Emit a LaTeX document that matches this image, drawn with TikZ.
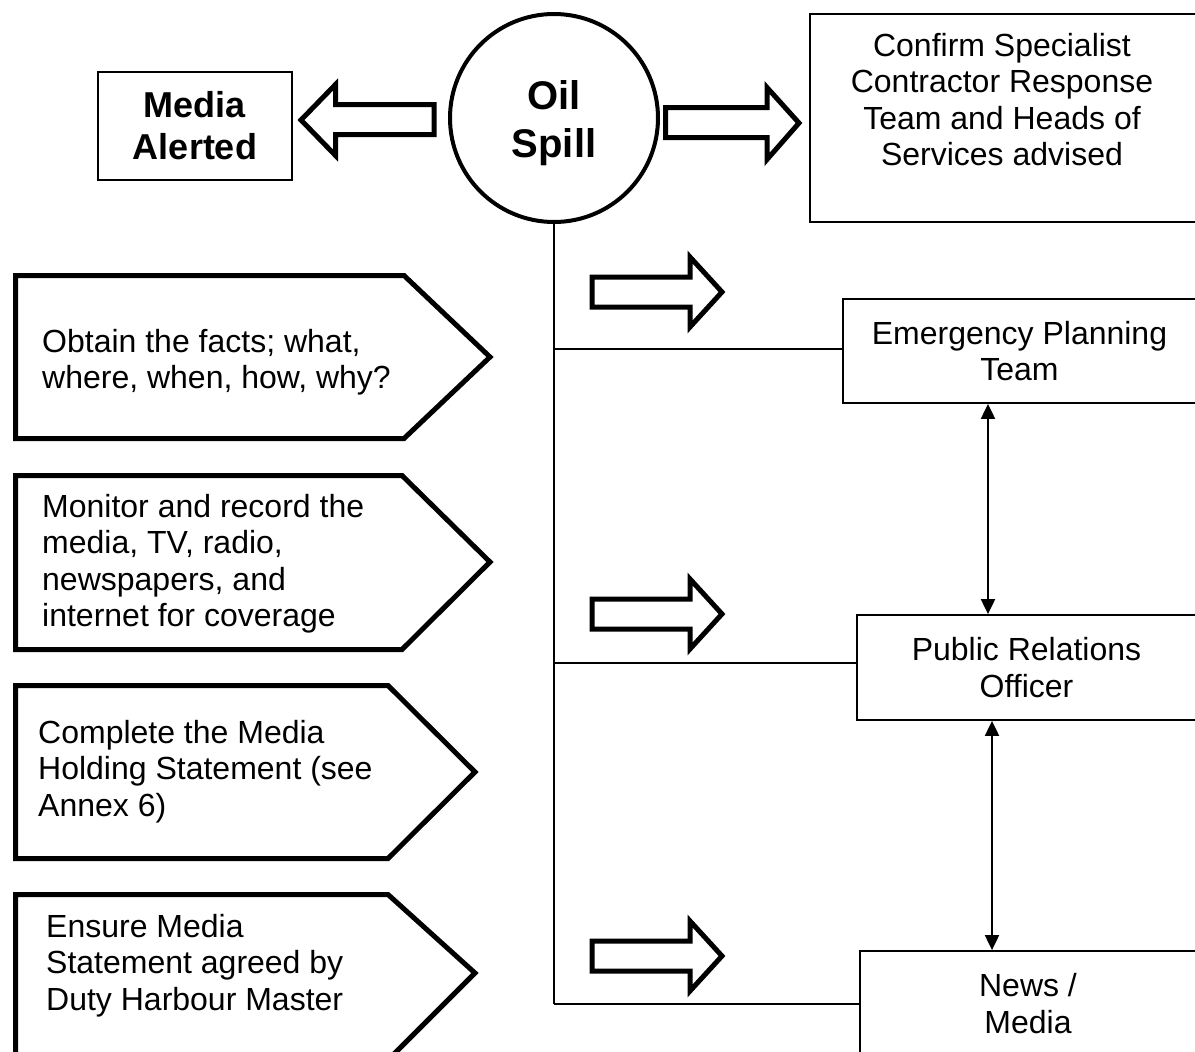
\documentclass[tikz,border=0pt]{standalone}
\usepackage{fontspec}
\setmainfont{Liberation Sans}
\usetikzlibrary{arrows.meta}
\begin{document}
\begin{tikzpicture}[x=1pt,y=-1pt,
  txt/.style={font=\fontsize{32}{36.5}\selectfont},
  box/.style={draw,line width=1.8pt,rectangle,inner sep=0pt,align=center,txt},
  fat/.style={draw,line width=5pt,line join=miter},
  conn/.style={line width=2pt},
  dbl/.style={line width=2pt,{Triangle[length=15pt,width=14pt]}-{Triangle[length=15pt,width=14pt]}},
  ptext/.style={anchor=north west,align=left,inner sep=0pt,txt}]
\clip (0,0) rectangle (1195,1052);
\fill[white] (0,0) rectangle (1195,1052);

% top row
\node[box,minimum width=194pt,minimum height=108pt,font=\fontsize{36}{42}\selectfont\bfseries] (media) at (195,126) {Media\\Alerted};
\node[draw,circle,line width=4pt,minimum size=208pt,inner sep=0pt] (oil) at (554,118) {};
\node[align=center,inner sep=0pt,font=\fontsize{40}{48}\selectfont\bfseries] (oiltxt) at (554,123) {Oil\\Spill};
\node[box,minimum width=387pt,minimum height=208pt] (confirm) at (1003.5,118) {};
\node[anchor=north,align=center,inner sep=0pt,txt] (confirmtxt) at (1002,33) {Confirm Specialist\\Contractor Response\\Team and Heads of\\Services advised};

% big hollow arrows
\draw[fat] (434,104.5) -- (335.5,104.5) -- (335.5,84.5) -- (301,120) -- (335.5,155.5) -- (335.5,134.5) -- (434,134.5) -- cycle;
\draw[fat] (665.5,107.5) -- (767,107.5) -- (767,87.5) -- (799,123) -- (767,159.5) -- (767,137.5) -- (665.5,137.5) -- cycle;

% right column boxes
\node[box,minimum width=353pt,minimum height=104pt] (ept) at (1019.5,351) {Emergency Planning\\Team};
\node[box,minimum width=339pt,minimum height=105pt] (pro) at (1026.5,667.5) {Public Relations\\Officer};
\node[box,minimum width=336pt,minimum height=105pt] (news) at (1028,1003.5) {News /\\Media};

% trunk and branches
\coordinate (j1) at (554,349);
\coordinate (j2) at (554,663);
\coordinate (j3) at (554,1004);
\draw[conn] (oil.south) -- (j3);
\draw[conn] (j1) -- (j1 -| ept.west);
\draw[conn] (j2) -- (j2 -| pro.west);
\draw[conn] (j3) -- (j3 -| news.west);

% double arrows
\coordinate (ax1) at (988,0);
\coordinate (ax2) at (992,0);
\draw[dbl] (ept.south -| ax1) -- (pro.north -| ax1);
\draw[dbl] (pro.south -| ax2) -- (news.north -| ax2);

% small hollow arrows
\foreach \c in {292,614,956}{
  \draw[fat] (592,\c-15) -- (690,\c-15) -- (690,\c-35) -- (722,\c) -- (690,\c+35) -- (690,\c+15) -- (592,\c+15) -- cycle;
}

% pentagons
\draw[fat] (15.5,275.5) -- (404,275.5) -- (490,357) -- (404,438.5) -- (15.5,438.5) -- cycle;
\node[ptext] (p1) at (42,329) {Obtain the facts; what,\\where, when, how, why?};
\draw[fat] (15.5,475.5) -- (402,475.5) -- (490,562) -- (402,649.5) -- (15.5,649.5) -- cycle;
\node[ptext] (p2) at (42,494) {Monitor and record the\\media, TV, radio,\\newspapers, and\\internet for coverage};
\draw[fat] (15.5,685.5) -- (388,685.5) -- (475,772) -- (388,858.5) -- (15.5,858.5) -- cycle;
\node[ptext] (p3) at (38,720) {Complete the Media\\Holding Statement (see\\Annex 6)};
\draw[fat] (15.5,894.5) -- (388,894.5) -- (475,973) -- (388,1060) -- (15.5,1060) -- cycle;
\node[ptext] (p4) at (46,914) {Ensure Media\\Statement agreed by\\Duty Harbour Master};
\end{tikzpicture}
\end{document}
